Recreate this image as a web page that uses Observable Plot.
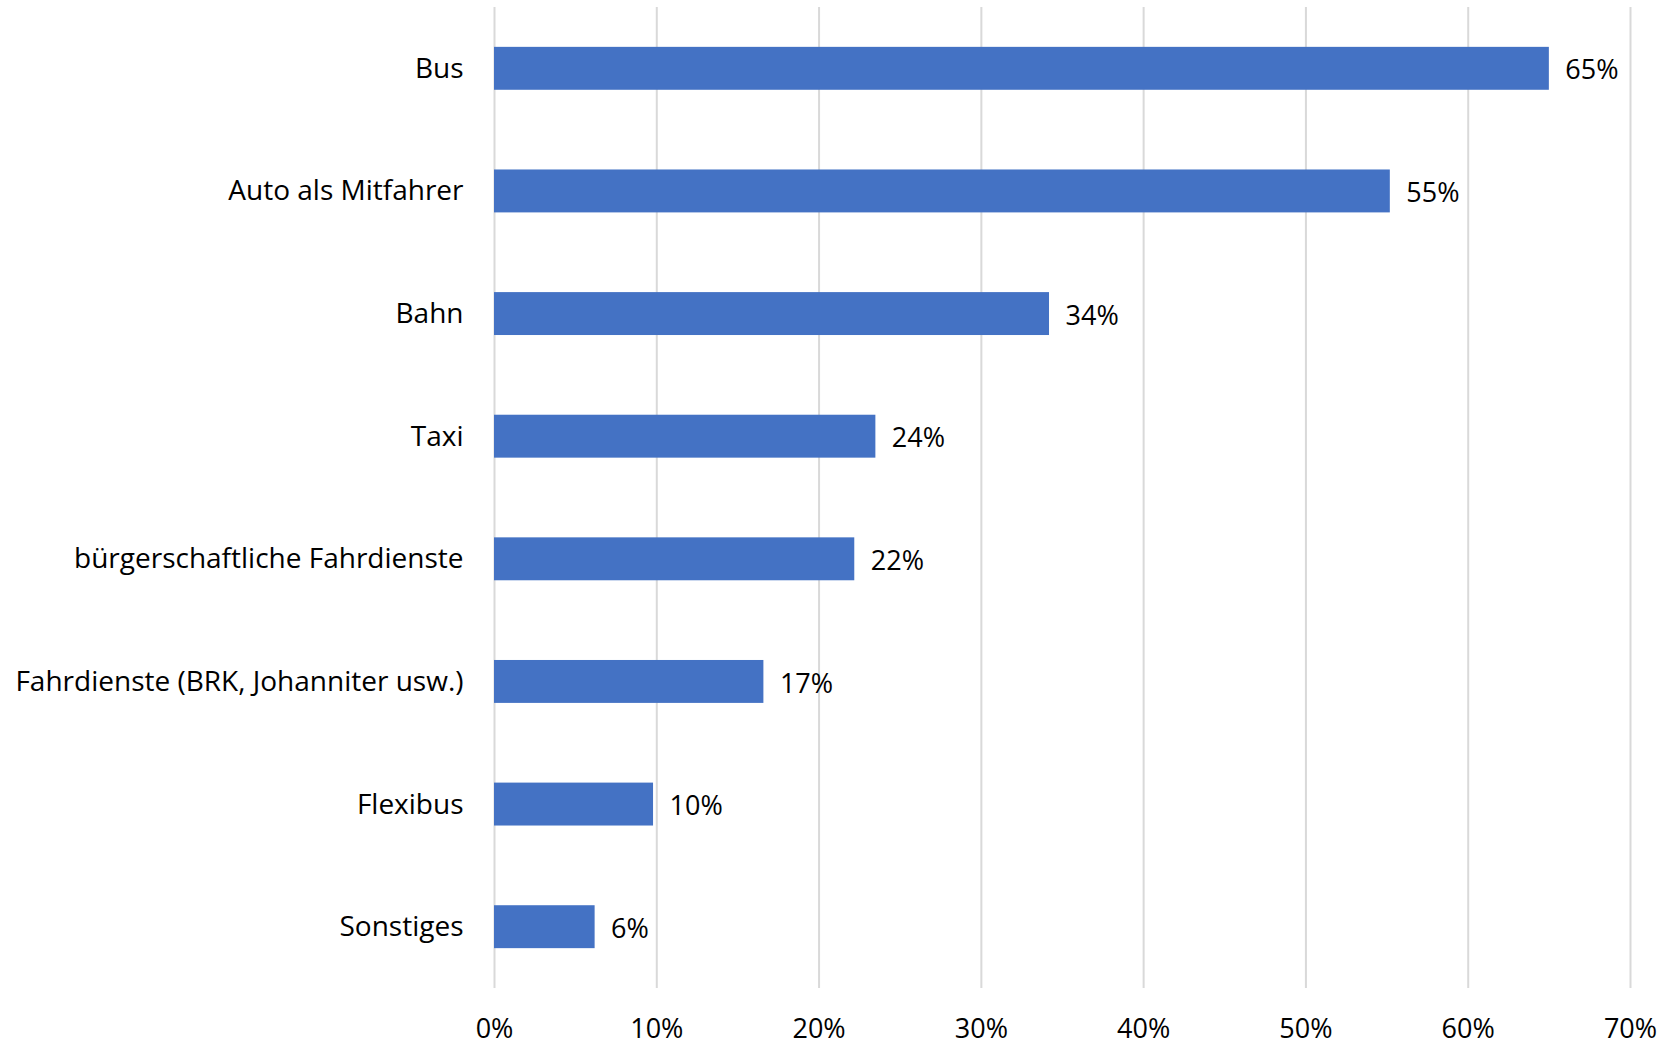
<!DOCTYPE html>
<html>
<head>
<meta charset="utf-8">
<script src="https://cdn.jsdelivr.net/npm/d3@7"></script>
<script src="https://cdn.jsdelivr.net/npm/@observablehq/plot@0.6"></script>
<style>
  html, body { margin: 0; padding: 0; background: #fff; }
  #chart { width: 1670px; height: 1045px; }
</style>
</head>
<body>
<div id="chart"></div>
<script>
const categories = [
  "Bus",
  "Auto als Mitfahrer",
  "Bahn",
  "Taxi",
  "bürgerschaftliche Fahrdienste",
  "Fahrdienste (BRK, Johanniter usw.)",
  "Flexibus",
  "Sonstiges"
];
const values = [65.0, 55.2, 34.2, 23.5, 22.2, 16.6, 9.8, 6.2];
const valueLabels = ["65%", "55%", "34%", "24%", "22%", "17%", "10%", "6%"];
const xTicks = [0, 10, 20, 30, 40, 50, 60, 70];

const data = categories.map((c, i) => ({category: c, value: values[i], label: valueLabels[i]}));

const FONT = "'Open Sans', Lato, sans-serif";
const FS = 27;

const chart = Plot.plot({
  width: 1670,
  height: 1045,
  marginLeft: 494,
  marginRight: 40,
  marginTop: 7,
  marginBottom: 57,
  style: {fontFamily: FONT, fontSize: FS + "px", color: "#000", background: "#fff"},
  x: {domain: [0, 70], label: null},
  y: {domain: categories, label: null, paddingInner: 0.65, paddingOuter: 0.325, round: false},
  marks: [
    Plot.gridX(xTicks, {stroke: "#d9d9d9", strokeOpacity: 1, strokeWidth: 2}),
    Plot.barX(data, {x: "value", y: "category", fill: "#4472C4"}),
    Plot.text(data, {x: "value", y: "category", text: "label", textAnchor: "start", dx: 16, dy: 2, fontSize: FS, fill: "#000"}),
    Plot.axisX({ticks: xTicks, tickFormat: d => d + "%", tickSize: 0, tickPadding: 30, fontSize: FS, label: null}),
    Plot.axisY({tickSize: 0, tickPadding: 31, fontSize: FS + 1, label: null})
  ]
});
document.getElementById("chart").appendChild(chart);
</script>
</body>
</html>
